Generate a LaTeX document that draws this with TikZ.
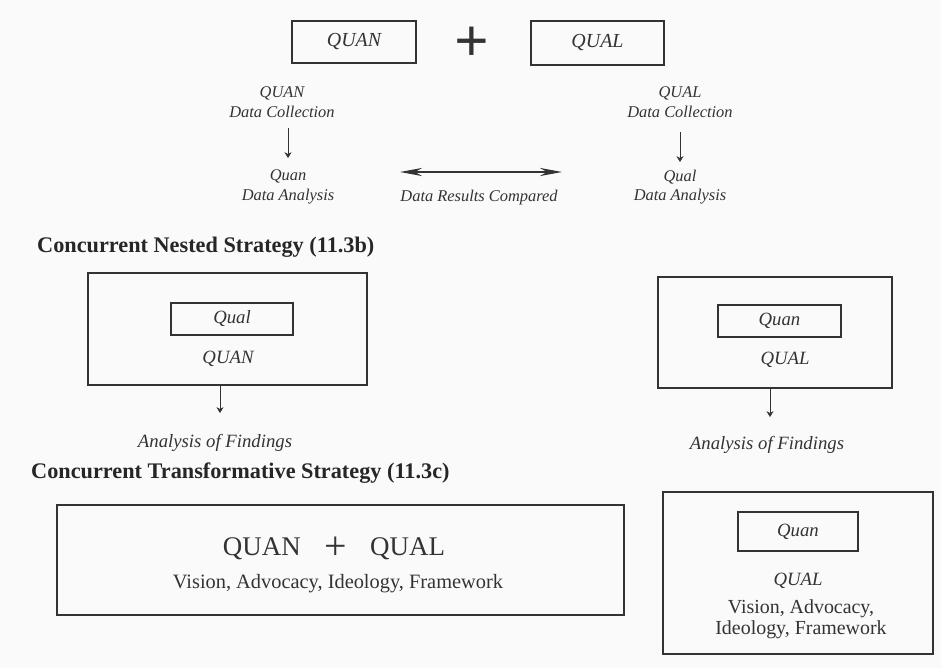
\documentclass[tikz,border=0pt]{standalone}
\usepackage{fontspec}
\setmainfont{Liberation Serif}
\usepackage{tikz}
\usetikzlibrary{arrows.meta}
\usepackage{xcolor}

\definecolor{ink}{HTML}{333333}

\begin{document}
\begin{tikzpicture}[x=0.03cm, y=-0.03cm,
		frame/.style={draw=ink, line width=0.9pt, inner sep=0pt},
		lab/.style={text=ink, font=\fontsize{14}{16.5}\selectfont\itshape, align=center, inner sep=1pt},
		biglab/.style={text=ink, font=\fontsize{16}{18}\selectfont\itshape, align=center, inner sep=1pt},
		head/.style={text=black!85, font=\fontsize{19}{21}\selectfont\bfseries, anchor=west, inner sep=0pt},
		down/.style={draw=ink, line width=0.5pt, -{Stealth[length=5pt, width=6pt]}}]
			\useasboundingbox[fill=black!2] (0,0) rectangle (941,668);
			% concurrent triangulation
			\node[frame, biglab, font=\fontsize{17}{19}\selectfont\itshape, minimum width=3.72cm, minimum height=1.26cm] (quanbox) at (354,42) {QUAN};
			\node[text=ink, font=\fontsize{52}{52}\selectfont\bfseries] (plus) at (472,44) {+};
			\node[frame, biglab, font=\fontsize{17}{19}\selectfont\itshape, minimum width=3.99cm, minimum height=1.32cm] (qualbox) at (597.5,43) {QUAL};
			\node[lab] (quancoll) at (282,102) {QUAN\\Data Collection};
			\node[lab] (quanan) at (288,187) {Quan\\Data Analysis};
			\node[lab] (qualcoll) at (680,102) {QUAL\\Data Collection};
			\node[lab] (qualan) at (680,187) {Qual\\Data Analysis};
			\draw[down] (quanan.north |- 0,128) -- (quanan.north |- 0,158);
			\draw[down] (qualan.north |- 0,132) -- (qualan.north |- 0,162);
			\coordinate (cmpL) at (400,172);
			\coordinate (cmpR) at (562,172);
			\draw[draw=ink, line width=1.1pt, {Stealth[length=19pt, width=7pt]}-{Stealth[length=19pt, width=7pt]}] (cmpL) -- (cmpR);
			\node[lab] (cmp) at (479,198) {Data Results Compared};
			% concurrent nested
			\node[head] (nesthead) at (37,247) {Concurrent Nested Strategy (11.3b)};
			\node[frame, minimum width=8.37cm, minimum height=3.36cm] (nestL) at (227.5,329) {};
			\node[frame, biglab, minimum width=3.66cm, minimum height=0.96cm] (nestLin) at (232,319) {Qual};
			\node[biglab] (nestLtxt) at (228,359) {QUAN};
			\node[biglab] (findL) at (215,443) {Analysis of Findings};
			\draw[down] (nestL.south -| 220,0) -- (220,413);
			\node[frame, minimum width=7.02cm, minimum height=3.33cm] (nestR) at (775,332.5) {};
			\node[frame, biglab, minimum width=3.69cm, minimum height=0.96cm] (nestRin) at (779.5,321) {Quan};
			\node[biglab] (nestRtxt) at (785,360) {QUAL};
			\node[biglab] (findR) at (767,445) {Analysis of Findings};
			\draw[down] (nestR.south -| 770,0) -- (770,417);
			% concurrent transformative
			\node[head] (transhead) at (31,473) {Concurrent Transformative Strategy (11.3c)};
			\node[frame, minimum width=17.01cm, minimum height=3.3cm] (transL) at (340.5,560) {};
			\node[text=ink, font=\fontsize{23}{25}\selectfont] (transLtop) at (334,548) {QUAN\hspace{20pt}\raisebox{-3.5pt}{\fontsize{34}{34}\selectfont +}\hspace{20pt}QUAL};
			\node[text=ink, font=\fontsize{17.4}{19}\selectfont] (transLbot) at (338,584) {Vision, Advocacy, Ideology, Framework};
			\node[frame, minimum width=8.1cm, minimum height=4.86cm] (transR) at (798,573) {};
			\node[frame, biglab, minimum width=3.6cm, minimum height=1.17cm] (transRin) at (798,531.5) {Quan};
			\node[biglab] (transRtxt) at (798,581) {QUAL};
			\node[text=ink, font=\fontsize{17}{18}\selectfont, align=center] (transRbot) at (801,619) {Vision, Advocacy,\\Ideology, Framework};
\end{tikzpicture}
\end{document}
